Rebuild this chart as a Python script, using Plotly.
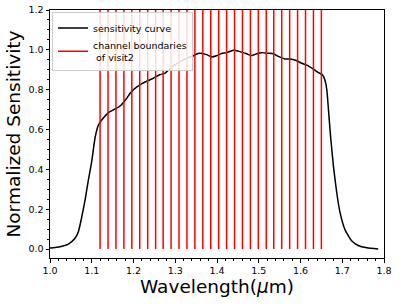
import plotly.graph_objects as go

wavelength = [1.000, 1.024, 1.044, 1.060, 1.068, 1.076, 1.084, 1.092, 1.100, 1.108,
              1.116, 1.124, 1.140, 1.156, 1.168, 1.182, 1.192, 1.200, 1.220, 1.245,
              1.263, 1.275, 1.285, 1.295, 1.311, 1.327, 1.340, 1.355, 1.375, 1.387,
              1.399, 1.411, 1.423, 1.439, 1.455, 1.471, 1.483, 1.495, 1.507, 1.523,
              1.535, 1.547, 1.563, 1.579, 1.591, 1.603, 1.615, 1.631, 1.643, 1.653,
              1.659, 1.663, 1.667, 1.672, 1.679, 1.687, 1.695, 1.707, 1.723, 1.738,
              1.759, 1.786]
sensitivity = [0.005, 0.012, 0.025, 0.054, 0.087, 0.160, 0.246, 0.347, 0.440, 0.560,
               0.623, 0.648, 0.685, 0.703, 0.718, 0.752, 0.782, 0.800, 0.830, 0.855,
               0.875, 0.882, 0.900, 0.918, 0.940, 0.957, 0.967, 0.982, 0.976, 0.964,
               0.970, 0.982, 0.986, 0.998, 0.991, 0.980, 0.971, 0.980, 0.986, 0.983,
               0.980, 0.967, 0.954, 0.953, 0.945, 0.933, 0.923, 0.903, 0.886, 0.874,
               0.845, 0.800, 0.700, 0.565, 0.414, 0.280, 0.180, 0.095, 0.040, 0.018,
               0.006, 0.000]
boundaries = [1.120, 1.139, 1.158, 1.177, 1.196, 1.215, 1.234, 1.253, 1.271, 1.290,
              1.309, 1.328, 1.347, 1.366, 1.385, 1.404, 1.423, 1.442, 1.461, 1.480,
              1.499, 1.518, 1.536, 1.555, 1.574, 1.593, 1.612, 1.631, 1.650]
boundary_low = 0.0
boundary_high = 1.2

bx, by = [], []
for b in boundaries:
    bx += [b, b, None]
    by += [boundary_low, boundary_high, None]

fig = go.Figure()
fig.add_trace(go.Scatter(x=wavelength, y=sensitivity, mode="lines",
                         line=dict(color="black", width=1.5, shape="spline", smoothing=0.5),
                         name="sensitivity curve"))
fig.add_trace(go.Scatter(x=bx, y=by, mode="lines",
                         line=dict(color="red", width=1.5),
                         name="channel boundaries<br> of visit2"))

axis_common = dict(showline=True, linecolor="black", linewidth=1, mirror=True,
                   ticks="outside", ticklen=3.5, tickwidth=1, tickcolor="black",
                   showgrid=False, zeroline=False, automargin=False,
                   tickfont=dict(family="DejaVu Sans", size=9.5, color="black"))

fig.update_xaxes(range=[1.0, 1.8], dtick=0.1, tick0=1.0, tickformat=".1f",
                 minor=dict(ticks="outside", dtick=0.02, tick0=1.0, ticklen=2, tickcolor="black"),
                 title=dict(text="Wavelength(<i>μ</i>m)", font=dict(family="DejaVu Sans", size=18.5, color="black"),
                            standoff=4),
                 **axis_common)
fig.update_yaxes(range=[-0.045, 1.2], dtick=0.2, tick0=0.0, tickformat=".1f",
                 minor=dict(ticks="outside", dtick=0.05, tick0=0.0, ticklen=2, tickcolor="black"),
                 title=dict(text="Normalized Sensitivity", font=dict(family="DejaVu Sans", size=18.5, color="black"),
                            standoff=3),
                 **axis_common)

fig.update_layout(width=399, height=305,
                  margin=dict(l=50, r=15, t=10, b=47),
                  paper_bgcolor="white", plot_bgcolor="white",
                  showlegend=True,
                  legend=dict(x=0.006, y=0.99, xanchor="left", yanchor="top",
                              bgcolor="rgba(255,255,255,0.85)", bordercolor="#cccccc", borderwidth=1,
                              font=dict(family="DejaVu Sans", size=9.5, color="black"),
                              tracegroupgap=0, itemwidth=30))

# remove the default 8px page margin so the figure sits at the window origin
fig.write_html("out.html", config={"displayModeBar": False},
               post_script="document.body.style.margin='0';document.body.style.overflow='hidden';")
